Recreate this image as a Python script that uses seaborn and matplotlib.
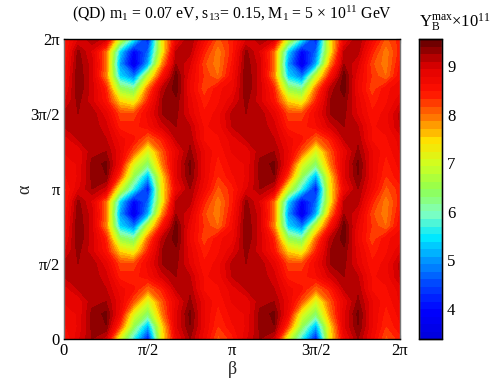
"""Contour map of Y_B^max over the (beta, alpha) plane."""
import numpy as np
import matplotlib
matplotlib.use("Agg")
import matplotlib.pyplot as plt
import seaborn as sns

# One period of the map.
# Rows: alpha = 0 ... 11pi/12, columns: beta = 0 ... 11pi/12 (pi/12 steps)
ROW_00 = [8.4, 8.9, 9.25, 9.0, 7.0, 5.6, 4.1, 7.3, 8.7, 9.25, 8.7, 8.1]
ROW_01 = [8.6, 8.8, 9.3, 9.4, 8.2, 6.4, 5.1, 7.4, 8.9, 9.4, 8.8, 8.3]
ROW_02 = [8.7, 8.8, 9.3, 9.45, 8.7, 7.1, 6.3, 7.9, 8.9, 9.45, 8.8, 8.4]
ROW_03 = [8.8, 8.8, 9.2, 9.25, 8.8, 8.1, 7.0, 8.1, 8.8, 9.3, 8.8, 8.5]
ROW_04 = [8.85, 9.1, 9.2, 9.1, 8.7, 8.5, 8.0, 8.4, 9.1, 9.2, 8.6, 8.6]
ROW_05 = [9.1, 9.2, 9.2, 9.0, 8.4, 8.4, 8.6, 9.0, 9.25, 9.1, 8.6, 8.7]
ROW_06 = [9.15, 9.25, 9.2, 8.85, 8.2, 8.2, 8.7, 9.25, 9.3, 8.9, 8.5, 8.7]
ROW_07 = [8.9, 9.3, 9.0, 8.5, 7.5, 7.2, 8.4, 9.25, 9.35, 8.85, 8.4, 8.6]
ROW_08 = [8.7, 9.4, 9.0, 8.4, 6.5, 6.2, 8.0, 9.15, 9.5, 8.75, 8.2, 8.6]
ROW_09 = [8.6, 9.4, 9.0, 7.9, 5.4, 4.8, 6.9, 8.5, 9.5, 8.8, 8.3, 8.0]
ROW_10 = [8.5, 9.35, 9.0, 8.0, 5.0, 3.6, 5.1, 7.8, 9.25, 8.95, 8.2, 7.9]
ROW_11 = [8.4, 9.3, 8.9, 8.0, 5.4, 3.9, 4.7, 7.2, 9.1, 9.15, 8.4, 7.9]
ROWS = [ROW_00, ROW_01, ROW_02, ROW_03, ROW_04, ROW_05,
        ROW_06, ROW_07, ROW_08, ROW_09, ROW_10, ROW_11]

TICKS = [0, np.pi / 2, np.pi, 3 * np.pi / 2, 2 * np.pi]
TICK_LABELS = ["0", "π/2", "π", "3π/2", "2π"]
CBAR_TICKS = [4, 5, 6, 7, 8, 9]
VMIN, VMAX = 3.38, 9.56
N_LEVELS = 40
JET_ANCHORS = ["#0000e0", "#0000ff", "#0040ff", "#0090ff", "#00e8ff",
               "#80ffc0", "#90ff50", "#d0ff20", "#ffe000", "#ff7000",
               "#ff1000", "#e00000", "#700000"]

sns.set_theme(style="white")
plt.rcParams["font.family"] = ["Liberation Serif", "DejaVu Serif"]
plt.rcParams["mathtext.fontset"] = "custom"
plt.rcParams["mathtext.rm"] = "Liberation Serif"
plt.rcParams["mathtext.default"] = "rm"

# the map repeats twice in both directions
period = np.array(ROWS)
z = np.vstack([period, period])
z = np.hstack([z, z])
z = np.hstack([z, z[:, :1]])
z = np.vstack([z, z[:1, :]])
beta = np.arange(z.shape[1]) * np.pi / 12
alpha = np.arange(z.shape[0]) * np.pi / 12

levels = np.linspace(VMIN, VMAX, N_LEVELS + 1)
colours = sns.blend_palette(JET_ANCHORS, N_LEVELS)

fig = plt.figure(figsize=(4.91, 3.81), dpi=100)
ax = fig.add_axes([64 / 491, 1 - 339 / 381, 336 / 491, 300 / 381])
cax = fig.add_axes([419 / 491, 1 - 339 / 381, 22.5 / 491, 300 / 381])

cs = ax.contourf(beta, alpha, z, levels=levels, colors=colours)

ax.set_xlim(0, 2 * np.pi)
ax.set_ylim(0, 2 * np.pi)
for axis in (ax.xaxis, ax.yaxis):
    axis.set_ticks(TICKS)
    axis.set_ticklabels(TICK_LABELS)
    axis.set_ticks(np.arange(9) * np.pi / 4, minor=True)
ax.tick_params(which="both", direction="in", length=3, width=0.8, color="#444444",
               top=True, right=True, left=True, bottom=True)
ax.tick_params(axis="both", labelsize=12, labelcolor="black", pad=3)
ax.set_xlabel("β", fontsize=13, labelpad=1)
ax.set_ylabel("α", fontsize=13)
ax.yaxis.set_label_coords(-31 / 336, 0.5)
ax.set_title("(QD) m$_1$ = 0.07 eV, s$_{13}$= 0.15, M$_1$ = 5 × 10$^{11}$ GeV",
             fontsize=11.3, color="black", pad=15)

cbar = fig.colorbar(cs, cax=cax, ticks=CBAR_TICKS)
cax.tick_params(direction="in", length=3, width=0.8, color="#222222", left=True, right=True,
                labelsize=12, labelcolor="black", pad=4)
fig.text(419 / 491, 1 - 27 / 381, "Y$_B^{max}$×10$^{11}$", fontsize=12, color="black")

for a in (ax, cax):
    for side, spine in a.spines.items():
        spine.set_visible(True)
        spine.set_linewidth(1.0)
        spine.set_color("#777777" if side in ("left", "right") else "black")

fig.savefig("out.png", dpi=100)
